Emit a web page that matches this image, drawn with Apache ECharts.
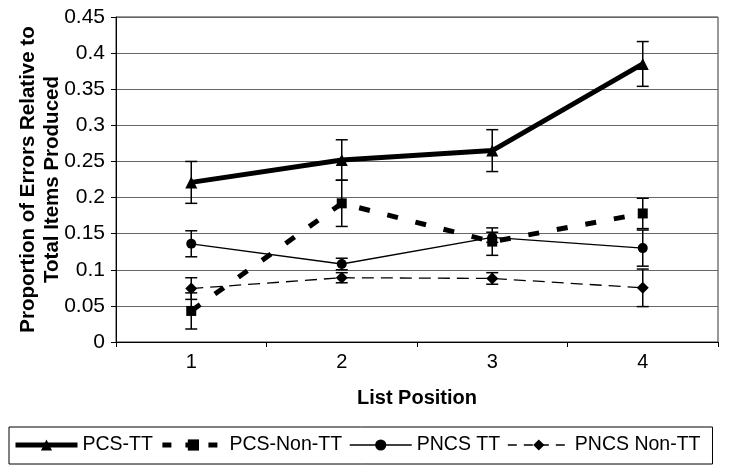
<!DOCTYPE html>
<html>
<head>
<meta charset="utf-8">
<script src="https://cdn.jsdelivr.net/npm/echarts@6/dist/echarts.min.js"></script>
<style>html,body{margin:0;padding:0;background:#fff}#c{width:729px;height:475px}</style>
</head>
<body>
<div id="c"></div>
<script>
var categories = ['1', '2', '3', '4'];
var yTicks = [0, 0.05, 0.1, 0.15, 0.2, 0.25, 0.3, 0.35, 0.4, 0.45];
var seriesNames = ['PCS-TT', 'PCS-Non-TT', 'PNCS TT', 'PNCS Non-TT'];
var pcsTT = [0.221, 0.252, 0.265, 0.385];
var pcsTTErr = [0.029, 0.028, 0.029, 0.031];
var pcsNonTT = [0.043, 0.192, 0.139, 0.178];
var pcsNonTTErr = [0.025, 0.032, 0.019, 0.021];
var pncsTT = [0.136, 0.108, 0.145, 0.130];
var pncsTTErr = [0.018, 0.008, 0.007, 0.025];
var pncsNonTT = [0.074, 0.089, 0.088, 0.075];
var pncsNonTTErr = [0.015, 0.007, 0.008, 0.026];

var allVals = [pcsTT, pcsNonTT, pncsTT, pncsNonTT];
var allErrs = [pcsTTErr, pcsNonTTErr, pncsTTErr, pncsNonTTErr];
var errData = [];
allVals.forEach(function (vals, s) {
  vals.forEach(function (v, i) {
    errData.push([i, v - allErrs[s][i], v + allErrs[s][i]]);
  });
});

var lineStyles = [
  { color: '#000', width: 5, type: 'solid' },
  { color: '#000', width: 5, type: [11, 18], cap: 'butt' },
  { color: '#000', width: 1.3, type: 'solid' },
  { color: '#000', width: 1.3, type: [12, 7] }
];
var legendLineStyles = [
  { color: '#000', width: 5, type: 'solid' },
  { color: '#000', width: 5, type: [9, 14], cap: 'butt' },
  { color: '#000', width: 1.3, type: 'solid' },
  { color: '#000', width: 1.3, type: [9, 7] }
];

var FONT = 'Liberation Sans, Arial, sans-serif';
var chart = echarts.init(document.getElementById('c'));
chart.setOption({
  animation: false,
  backgroundColor: '#fff',
  grid: {
    left: 116, right: 11, top: 17, bottom: 133,
    show: true, borderColor: '#333', borderWidth: 1,
    containLabel: false, outerBoundsMode: 'none'
  },
  legend: {
    data: seriesNames.map(function (n, i) {
      return { name: n, lineStyle: legendLineStyles[i] };
    }),
    left: 9, top: 427,
    orient: 'horizontal',
    itemWidth: 62, itemHeight: 14, itemGap: 7,
    padding: [8, 12, 9, 4],
    borderColor: '#000', borderWidth: 1,
    textStyle: { fontFamily: FONT, fontSize: 19.5, color: '#000', lineHeight: 20 },
    inactiveColor: '#000'
  },
  xAxis: {
    type: 'category',
    data: categories,
    boundaryGap: true,
    name: 'List Position',
    nameLocation: 'middle',
    nameGap: 46,
    nameMoveOverlap: false,
    nameTextStyle: { fontFamily: FONT, fontSize: 20, fontWeight: 'bold', color: '#000' },
    axisLine: { show: true, lineStyle: { color: '#000', width: 1 } },
    axisTick: { show: true, length: 5, inside: false, alignWithLabel: false, lineStyle: { color: '#000' } },
    axisLabel: { fontFamily: FONT, fontSize: 20, color: '#000', margin: 10 },
    splitLine: { show: false }
  },
  yAxis: {
    type: 'value',
    min: 0, max: 0.45, interval: 0.05,
    name: 'Proportion of Errors Relative to\nTotal Items Produced',
    nameLocation: 'middle',
    nameGap: 52,
    nameMoveOverlap: false,
    nameTextStyle: { fontFamily: FONT, fontSize: 20.5, fontWeight: 'bold', color: '#000', lineHeight: 24, align: 'center' },
    axisLine: { show: true, lineStyle: { color: '#000', width: 1 } },
    axisTick: { show: true, length: 5, inside: false, lineStyle: { color: '#000' } },
    axisLabel: {
      fontFamily: FONT, fontSize: 21, color: '#000', margin: 11,
      formatter: function (v) {
        var t = yTicks.filter(function (x) { return Math.abs(x - v) < 1e-9; });
        return t.length ? String(t[0]) : '';
      }
    },
    splitLine: { show: true, lineStyle: { color: '#666', width: 1 } }
  },
  series: [
    {
      name: seriesNames[0], type: 'line', data: pcsTT,
      symbol: 'triangle', symbolSize: 12,
      lineStyle: lineStyles[0],
      itemStyle: { color: '#000' }, z: 4
    },
    {
      name: seriesNames[1], type: 'line', data: pcsNonTT,
      symbol: 'rect', symbolSize: 10,
      lineStyle: lineStyles[1],
      itemStyle: { color: '#000' }, z: 3
    },
    {
      name: seriesNames[2], type: 'line', data: pncsTT,
      symbol: 'circle', symbolSize: 10,
      lineStyle: lineStyles[2],
      itemStyle: { color: '#000' }, z: 3
    },
    {
      name: seriesNames[3], type: 'line', data: pncsNonTT,
      symbol: 'diamond', symbolSize: 12,
      lineStyle: lineStyles[3],
      itemStyle: { color: '#000' }, z: 3
    },
    {
      name: 'errors', type: 'custom', data: errData, z: 5,
      encode: { x: 0, y: [1, 2] },
      renderItem: function (params, api) {
        var x = api.value(0);
        var lo = api.coord([x, api.value(1)]);
        var hi = api.coord([x, api.value(2)]);
        var hw = 6;
        var st = { stroke: '#000', lineWidth: 1.5, fill: null };
        return {
          type: 'group',
          children: [
            { type: 'line', shape: { x1: lo[0], y1: lo[1], x2: hi[0], y2: hi[1] }, style: st },
            { type: 'line', shape: { x1: lo[0] - hw, y1: lo[1], x2: lo[0] + hw, y2: lo[1] }, style: st },
            { type: 'line', shape: { x1: hi[0] - hw, y1: hi[1], x2: hi[0] + hw, y2: hi[1] }, style: st }
          ]
        };
      }
    }
  ]
});
</script>
</body>
</html>
